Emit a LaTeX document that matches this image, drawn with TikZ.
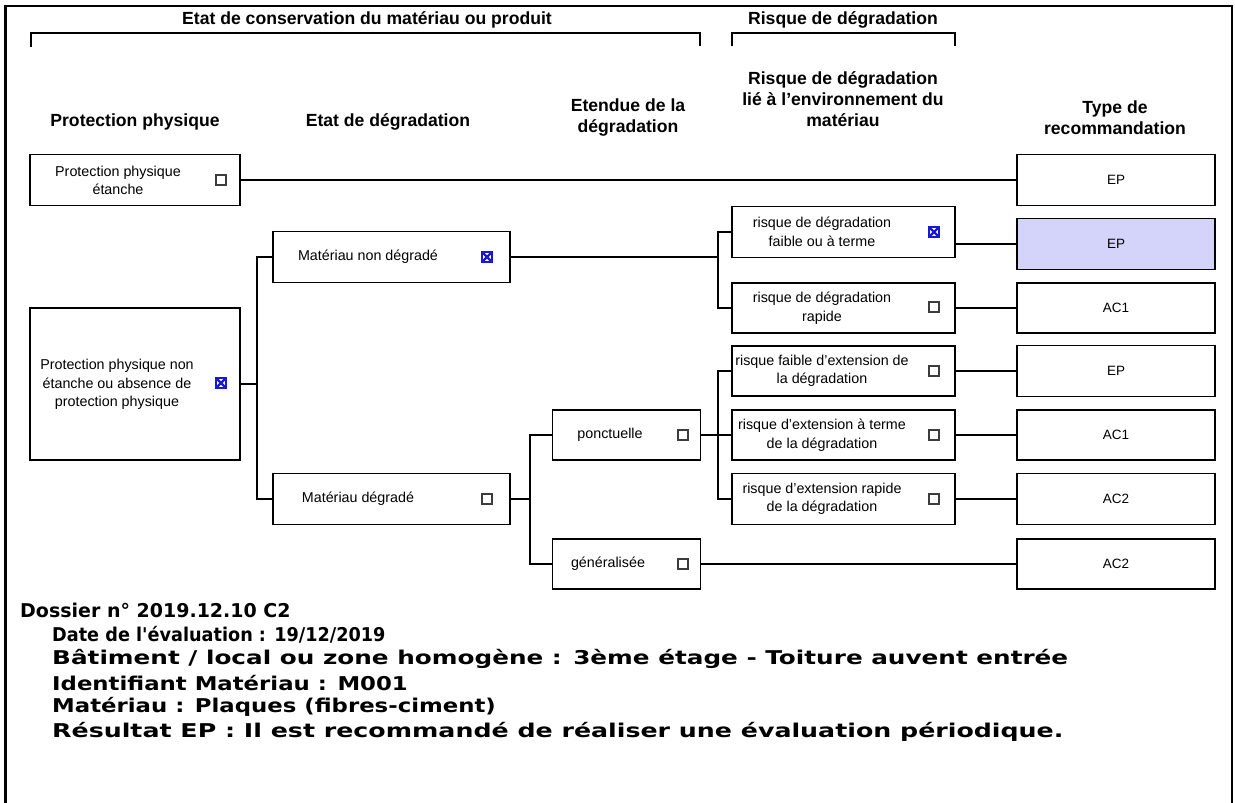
\documentclass[tikz,border=0pt]{standalone}
\usepackage{fontspec}
\setmainfont{Liberation Sans}
\newfontfamily\infofont{DejaVu Sans}
\definecolor{chkblue}{RGB}{25,25,210}
\definecolor{selfill}{RGB}{212,212,250}
\definecolor{chkgray}{RGB}{60,60,60}
\newcommand{\infoline}[2]{\scalebox{#1}[1]{#2}}
\begin{document}
\begin{tikzpicture}[x=1pt,y=-1pt,
  box/.style={draw,line width=1.7pt,minimum width=#1,minimum height=50pt,inner sep=0pt},
  box/.default=223pt,
  res/.style={draw,line width=1.7pt,minimum width=198pt,minimum height=50pt,inner sep=0pt,font=\fontsize{13.5}{15}\selectfont},
  txt/.style={align=center,inner sep=0pt,font=\fontsize{14.3}{18.5}\selectfont},
  hdr/.style={align=center,inner sep=0pt,font=\fontsize{17.6}{21}\selectfont\bfseries},
  chk/.style={draw=chkgray,line width=1.1pt,minimum size=10pt,inner sep=0pt},
  xchk/.style={draw=chkblue,line width=1.8pt,minimum size=10pt,inner sep=0pt,
     path picture={\draw[chkblue,line width=2.4pt] (path picture bounding box.south west)--(path picture bounding box.north east) (path picture bounding box.north west)--(path picture bounding box.south east);}},
  conn/.style={line width=1.7pt},
  info/.style={anchor=west,inner sep=0pt,font=\infofont\fontsize{19}{24}\selectfont\bfseries}]
\useasboundingbox (0,0) rectangle (1235,803);
% frame
\draw[line width=2.5pt] (5.5,803) -- (5.5,6) -- (1232,6) -- (1232,803);
% header brackets
\node[hdr] (h1) at (367,20) {Etat de conservation du matériau ou produit};
\draw[line width=1.7pt] (31,47) -- (31,33) -- (700,33) -- (700,46);
\node[hdr] (h2) at (843,20) {Risque de dégradation};
\draw[line width=1.7pt] (732,46) -- (732,33) -- (955,33) -- (955,46);
% column headers
\node[hdr] (c1) at (135,122) {Protection physique};
\node[hdr] (c2) at (388,122) {Etat de dégradation};
\node[hdr] (c3) at (628,117) {Etendue de la\\dégradation};
\node[hdr] (c4) at (843,99) {Risque de dégradation\\lié à l'environnement du\\matériau};
\node[hdr] (c5) at (1115,118) {Type de\\recommandation};
% first column
\node[box=210pt,minimum height=51pt] (b1) at (135,180) {};
\node[txt] (t1) at (118,180.5) {Protection physique\\étanche};
\node[chk] (k1) at (221,180) {};
\node[box=210pt,minimum height=152pt] (b2) at (135,384) {};
\node[txt] (t2) at (117,384.5) {Protection physique non\\étanche ou absence de\\protection physique};
\node[xchk] (k2) at (221,383) {};
% second column
\node[box=237pt,minimum height=51pt] (b3) at (391.5,257) {};
\node[txt] (t3) at (368,257) {Matériau non dégradé};
\node[xchk] (k3) at (487,257) {};
\node[box=237pt,minimum height=51pt] (b4) at (391.5,499) {};
\node[txt] (t4) at (358,499) {Matériau dégradé};
\node[chk] (k4) at (487,499) {};
% third column
\node[box=148pt] (b5) at (626.5,435) {};
\node[txt] (t5) at (610,435) {ponctuelle};
\node[chk] (k5) at (683,435) {};
\node[box=148pt] (b6) at (626.5,564) {};
\node[txt] (t6) at (608,564) {généralisée};
\node[chk] (k6) at (683,564) {};
% risk column
\node[box,minimum height=51pt] (ra) at (843.5,232) {};
\node[txt] (ta) at (822,232) {risque de dégradation\\faible ou à terme};
\node[xchk] (ka) at (934,232) {};
\node[box] (rb) at (843.5,308) {};
\node[txt] (tb) at (822,308) {risque de dégradation\\rapide};
\node[chk] (kb) at (934,307) {};
\node[box] (rc) at (843.5,371) {};
\node[txt] (tc) at (822,371) {risque faible d'extension de\\la dégradation};
\node[chk] (kc) at (934,371) {};
\node[box] (rd) at (843.5,435) {};
\node[txt] (td) at (822,435) {risque d'extension à terme\\de la dégradation};
\node[chk] (kd) at (934,435) {};
\node[box,minimum height=51pt] (re) at (843.5,499) {};
\node[txt] (te) at (822,499) {risque d'extension rapide\\de la dégradation};
\node[chk] (ke) at (934,499) {};
% results
\node[res,minimum height=51pt] (e1) at (1116,180) {EP};
\node[res,minimum height=51pt,fill=selfill] (e2) at (1116,244) {EP};
\node[res] (e3) at (1116,308) {AC1};
\node[res,minimum height=51pt] (e4) at (1116,371) {EP};
\node[res] (e5) at (1116,435) {AC1};
\node[res,minimum height=51pt] (e6) at (1116,499) {AC2};
\node[res] (e7) at (1116,564) {AC2};
% junction coordinates
\coordinate (j1) at (257,0);
\coordinate (j2) at (718,0);
\coordinate (j3) at (530,0);
\coordinate (j4) at (718,0);
% connectors
\draw[conn] (b1.east) -- (e1.west);
\draw[conn] (b2.east) -- (b2.east -| j1);
\draw[conn] (b3.west) -- (b3.west -| j1) -- (b4.west -| j1) -- (b4.west);
\draw[conn] (b3.east) -- (b3.east -| j2);
\draw[conn] (ra.west) -- (ra.west -| j2) -- (rb.west -| j2) -- (rb.west);
\draw[conn] (b4.east) -- (b4.east -| j3);
\draw[conn] (b5.west) -- (b5.west -| j3) -- (b6.west -| j3) -- (b6.west);
\draw[conn] (b5.east) -- (rd.west);
\draw[conn] (rc.west) -- (rc.west -| j4) -- (re.west -| j4) -- (re.west);
\draw[conn] (e2.west -| ra.east) -- (e2.west);
\draw[conn] (rb.east) -- (e3.west);
\draw[conn] (rc.east) -- (e4.west);
\draw[conn] (rd.east) -- (e5.west);
\draw[conn] (re.east) -- (e6.west);
\draw[conn] (b6.east) -- (e7.west);
% info text
\node[info] (i1) at (20,610) {\infoline{1.0}{Dossier n° 2019.12.10 C2}};
\node[info] (i2) at (52,634.5) {\infoline{0.93}{Date de l'évaluation : 19/12/2019}};
\node[info] (i3) at (52,659) {\infoline{1.3}{Bâtiment / local ou zone homogène : 3ème étage - Toiture auvent entrée}};
\node[info] (i4) at (52,683) {\infoline{1.2}{Identifiant Matériau : M001}};
\node[info] (i5) at (52,707) {\infoline{1.2}{Matériau : Plaques (fibres-ciment)}};
\node[info] (i6) at (52,731.5) {\infoline{1.33}{Résultat EP : Il est recommandé de réaliser une évaluation périodique.}};
\end{tikzpicture}
\end{document}
